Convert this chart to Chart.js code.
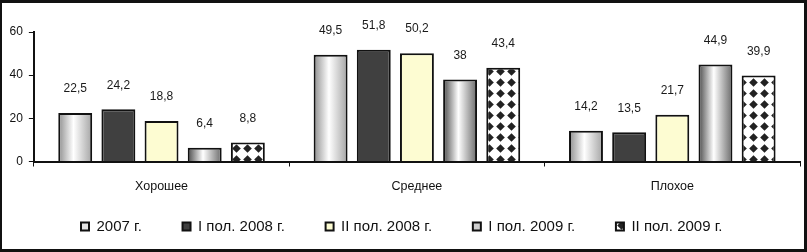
<!DOCTYPE html>
<html>
<head>
<meta charset="utf-8">
<script src="https://cdn.jsdelivr.net/npm/chart.js@4"></script>
<style>
  html, body { margin: 0; padding: 0; background: #fff; }
  #wrap { position: relative; width: 807px; height: 252px; }
  #frame {
    position: absolute; left: 0; top: 0; right: 0; bottom: 0;
    border-style: solid; border-color: #111;
    border-width: 3px 3px 3px 2px;
    pointer-events: none;
  }
  canvas { position: absolute; left: 0; top: 0; }
</style>
</head>
<body>
<div id="wrap">
  <canvas id="chart" width="807" height="252"></canvas>
  <div id="frame"></div>
</div>
<script>
// ---- data ----
const categories   = ['Хорошее', 'Среднее', 'Плохое'];
const seriesLabels = ['2007 г.', 'I пол. 2008 г.', 'II пол. 2008 г.', 'I пол. 2009 г.', 'II пол. 2009 г.'];
const v2007   = [22.5, 49.5, 14.2];
const v2008a  = [24.2, 51.8, 13.5];
const v2008b  = [18.8, 50.2, 21.7];
const v2009a  = [6.4, 38, 44.9];
const v2009b  = [8.8, 43.4, 39.9];
const yTicks  = [0, 20, 40, 60];

const CAT_PCT = 0.845;
const BAR_PCT = 0.786;
const FONT = '"Liberation Sans", Arial, sans-serif';

// cylinder-like horizontal gradient, one per bar
function barGradient(stops) {
  return function (c) {
    const chart = c.chart;
    const x = chart.scales.x;
    if (!x || c.dataIndex === undefined) return stops[1][1];
    const center = x.getPixelForValue(c.dataIndex);
    const catW = (x.right - x.left) / categories.length;
    const groupW = catW * CAT_PCT;
    const slot = groupW / seriesLabels.length;
    const left = center - groupW / 2 + slot * c.datasetIndex + slot * (1 - BAR_PCT) / 2;
    const w = slot * BAR_PCT;
    if (!isFinite(left) || !isFinite(w) || w <= 0) return stops[1][1];
    const g = chart.ctx.createLinearGradient(left, 0, left + w, 0);
    stops.forEach(s => g.addColorStop(s[0], s[1]));
    return g;
  };
}

// black diamonds on white
function diamondPattern() {
  const p = 11;
  const cv = document.createElement('canvas');
  cv.width = p; cv.height = p;
  const cx = cv.getContext('2d');
  cx.fillStyle = '#fff';
  cx.fillRect(0, 0, p, p);
  cx.fillStyle = '#222';
  cx.beginPath();
  cx.moveTo(5.5, 1.2); cx.lineTo(9.8, 5.5); cx.lineTo(5.5, 9.8); cx.lineTo(1.2, 5.5);
  cx.closePath();
  cx.fill();
  return cx.createPattern(cv, 'repeat');
}
const diamonds = diamondPattern();

const legendFill = ['#e4e4e4', null, null, '#cfcfcf', null];

// value labels above bars
const valueLabels = {
  id: 'valueLabels',
  afterDatasetsDraw(chart) {
    const ctx = chart.ctx;
    ctx.save();
    ctx.font = '12px ' + FONT;
    ctx.fillStyle = '#1a1a1a';
    ctx.textAlign = 'center';
    ctx.textBaseline = 'middle';
    chart.data.datasets.forEach((ds, i) => {
      chart.getDatasetMeta(i).data.forEach((el, j) => {
        const txt = String(ds.data[j]).replace('.', ',');
        ctx.fillText(txt, el.x, el.y - 24);
      });
    });
    ctx.restore();
  }
};

const common = { borderColor: '#111', borderWidth: 2, categoryPercentage: CAT_PCT, barPercentage: BAR_PCT };

new Chart(document.getElementById('chart'), {
  type: 'bar',
  data: {
    labels: categories,
    datasets: [
      Object.assign({ label: seriesLabels[0], data: v2007,
        backgroundColor: barGradient([[0, '#8e8e8e'], [0.45, '#ffffff'], [1, '#a4a4a4']]) }, common),
      Object.assign({ label: seriesLabels[1], data: v2008a, backgroundColor: '#404040' }, common),
      Object.assign({ label: seriesLabels[2], data: v2008b, backgroundColor: '#fdfcd2' }, common),
      Object.assign({ label: seriesLabels[3], data: v2009a,
        backgroundColor: barGradient([[0, '#4a4a4a'], [0.45, '#ffffff'], [1, '#6a6a6a']]) }, common),
      Object.assign({ label: seriesLabels[4], data: v2009b, backgroundColor: diamonds }, common)
    ]
  },
  options: {
    responsive: false,
    animation: false,
    devicePixelRatio: 1,
    layout: { padding: { left: 3.5, right: 7, top: 32, bottom: 8 } },
    plugins: {
      tooltip: { enabled: false },
      legend: {
        position: 'bottom',
        labels: {
          boxWidth: 8,
          boxHeight: 8,
          padding: 11.5,
          color: '#111',
          font: { family: FONT, size: 15 },
          generateLabels(chart) {
            const items = Chart.defaults.plugins.legend.labels.generateLabels(chart);
            items.forEach((it, i) => {
              // extra gap after every item but the last
              if (i < items.length - 1) it.text = it.text + '       ';
              if (legendFill[i]) it.fillStyle = legendFill[i];
            });
            return items;
          }
        }
      }
    },
    scales: {
      x: {
        offset: true,
        grid: { display: true, drawOnChartArea: false, drawTicks: true, tickLength: 5, color: '#111', offset: true },
        border: { display: true, color: '#111', width: 2 },
        ticks: { color: '#111', padding: 13, font: { family: FONT, size: 12.5 } }
      },
      y: {
        min: 0,
        max: 60,
        afterBuildTicks(scale) { scale.ticks = yTicks.map(v => ({ value: v })); },
        grid: { display: true, drawOnChartArea: false, drawTicks: true, tickLength: 5, color: '#111' },
        border: { display: true, color: '#111', width: 2 },
        ticks: { color: '#111', padding: 6, font: { family: FONT, size: 12 } }
      }
    }
  },
  plugins: [valueLabels]
});
</script>
</body>
</html>
